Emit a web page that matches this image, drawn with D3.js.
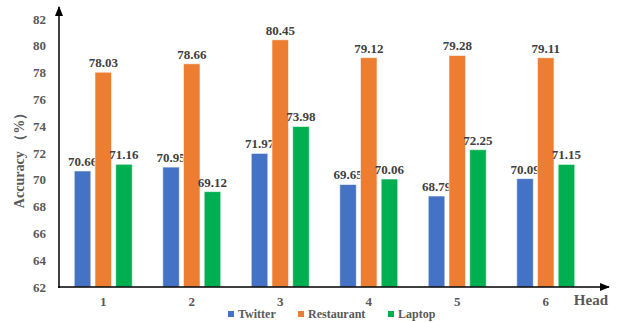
<!DOCTYPE html>
<html>
<head>
<meta charset="utf-8">
<script src="https://cdn.jsdelivr.net/npm/d3@7"></script>
<style>
  body { margin: 0; background: #fff; }
  text { font-family: "Liberation Serif", "Times New Roman", serif; font-weight: bold; }
</style>
</head>
<body>
<div id="chart"></div>
<script>
// Data
var heads = ["1", "2", "3", "4", "5", "6"];
var seriesNames = ["Twitter", "Restaurant", "Laptop"];
var twitter = [70.66, 70.95, 71.97, 69.65, 68.79, 70.09];
var restaurant = [78.03, 78.66, 80.45, 79.12, 79.28, 79.11];
var laptop = [71.16, 69.12, 73.98, 70.06, 72.25, 71.15];
var yTicks = [62, 64, 66, 68, 70, 72, 74, 76, 78, 80, 82];
var colors = ["#4472C4", "#ED7D31", "#00B050"];

var seriesValues = [twitter, restaurant, laptop];

// Dimensions
var width = 630, height = 322;
var plotLeft = 59, plotRight = 590, plotTop = 19, plotBottom = 287;

var svg = d3.select("#chart").append("svg")
  .attr("width", width)
  .attr("height", height);

var defs = svg.append("defs");
defs.append("marker")
  .attr("id", "arrow")
  .attr("viewBox", "0 0 10 10")
  .attr("refX", 9).attr("refY", 5)
  .attr("markerWidth", 7).attr("markerHeight", 7)
  .attr("orient", "auto")
  .append("path")
  .attr("d", "M0,1 L10,5 L0,9 Z")
  .attr("fill", "#000");

var x = d3.scaleBand().domain(heads).range([plotLeft, plotRight]);
var xInner = d3.scaleBand().domain(seriesNames).range([-29, 29]).paddingInner(0.2);
var y = d3.scaleLinear().domain([62, 82]).range([plotBottom, plotTop]);

// Bars
seriesNames.forEach(function (name, si) {
  var g = svg.append("g");
  g.selectAll("rect")
    .data(seriesValues[si])
    .enter()
    .append("rect")
    .attr("x", function (d, i) { return x(heads[i]) + x.bandwidth() / 2 + xInner(name); })
    .attr("y", function (d) { return y(d); })
    .attr("width", xInner.bandwidth())
    .attr("height", function (d) { return y(62) - y(d); })
    .attr("fill", colors[si])
    .attr("stroke", "#fff")
    .attr("stroke-opacity", 0.6)
    .attr("stroke-width", 1);

  g.selectAll("text")
    .data(seriesValues[si])
    .enter()
    .append("text")
    .attr("x", function (d, i) { return x(heads[i]) + x.bandwidth() / 2 + xInner(name) + xInner.bandwidth() / 2; })
    .attr("y", function (d) { return y(d) - 5; })
    .attr("text-anchor", "middle")
    .attr("font-size", 13)
    .attr("fill", "#404040")
    .text(function (d) { return d.toFixed(2); });
});

// Y axis
var yAxis = d3.axisLeft(y).tickValues(yTicks).tickSize(0).tickPadding(13);
var gy = svg.append("g").attr("transform", "translate(" + plotLeft + ",0)").call(yAxis);
gy.select(".domain").remove();
gy.selectAll("text").attr("font-size", 13).attr("fill", "#595959")
  .style("font-family", "Liberation Serif").style("font-weight", "bold");

svg.append("line")
  .attr("x1", plotLeft).attr("y1", plotBottom + 1)
  .attr("x2", plotLeft).attr("y2", 7)
  .attr("stroke", "#000").attr("stroke-width", 1.5)
  .attr("marker-end", "url(#arrow)");

// X axis
var xAxis = d3.axisBottom(x).tickSize(0).tickPadding(10);
var gx = svg.append("g").attr("transform", "translate(0," + plotBottom + ")").call(xAxis);
gx.select(".domain").remove();
gx.selectAll("text").attr("font-size", 13).attr("fill", "#595959")
  .style("font-family", "Liberation Serif").style("font-weight", "bold");

svg.append("line")
  .attr("x1", plotLeft - 1).attr("y1", plotBottom)
  .attr("x2", 609).attr("y2", plotBottom)
  .attr("stroke", "#000").attr("stroke-width", 1.5)
  .attr("marker-end", "url(#arrow)");

svg.append("text")
  .attr("x", 608).attr("y", 305)
  .attr("text-anchor", "end")
  .attr("font-size", 15)
  .attr("fill", "#595959")
  .text("Head");

// Y label
svg.append("text")
  .attr("transform", "translate(24,157) rotate(-90)")
  .attr("text-anchor", "middle")
  .attr("font-size", 14)
  .attr("fill", "#595959")
  .text("Accuracy （%）");

// Legend
var legendX = [228, 298, 388];
var legend = svg.append("g").attr("transform", "translate(0,311)");
var items = legend.selectAll("g")
  .data(seriesNames)
  .enter()
  .append("g")
  .attr("transform", function (d, i) { return "translate(" + legendX[i] + ",0)"; });
items.append("rect")
  .attr("width", 6).attr("height", 6)
  .attr("y", 0)
  .attr("fill", function (d, i) { return colors[i]; });
items.append("text")
  .attr("x", 10).attr("y", 7)
  .attr("font-size", 12)
  .attr("fill", "#595959")
  .text(function (d) { return d; });
</script>
</body>
</html>
